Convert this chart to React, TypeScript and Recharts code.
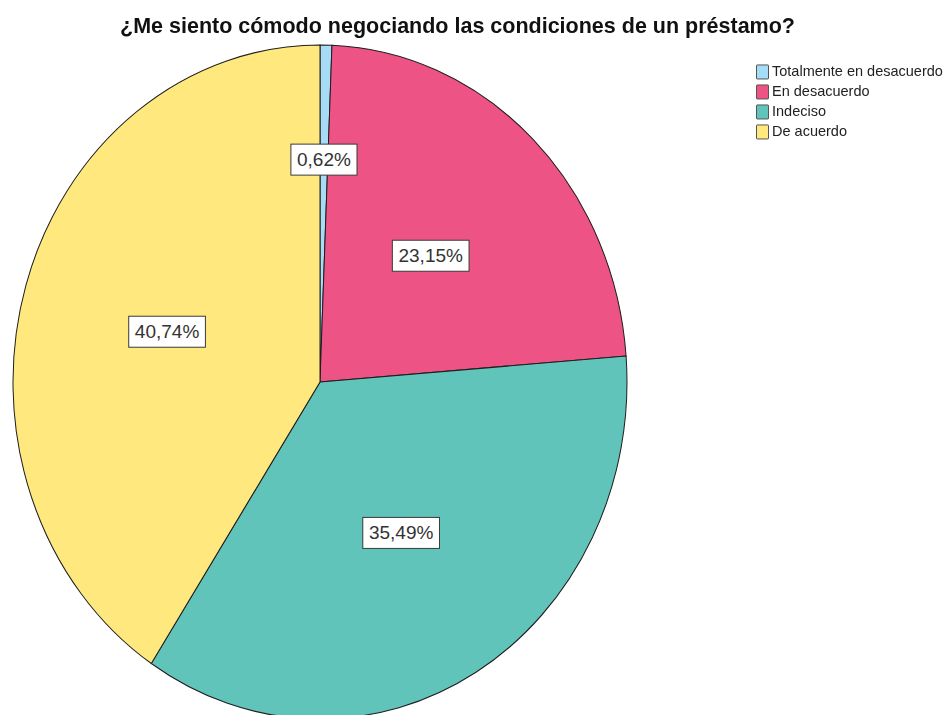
import { PieChart, Pie, Cell, Legend } from "recharts";

const categories = ["Totalmente en desacuerdo", "En desacuerdo", "Indeciso", "De acuerdo"];
const percents = [0.62, 23.15, 35.49, 40.74];
const colors = ["#a6dcf6", "#ee5386", "#60c4ba", "#ffe97f"];
const title = "¿Me siento cómodo negociando las condiciones de un préstamo?";

const data = categories.map((name, i) => ({ name, value: percents[i], fill: colors[i] }));

// the original pie is an ellipse (taller than wide), so the chart is stretched vertically
const W = 948;
const H = 715;
const CX = 320;
const CY = 382;
const R = 307;
const K = 337 / 307;
const RAD = Math.PI / 180;

function charWidth(ch: string) {
  if (ch === ",") return 5.3;
  if (ch === "%") return 17;
  return 10.6;
}

function SliceLabel(props: any) {
  const { cx, cy, midAngle, outerRadius, percent, value } = props;
  const frac = percent < 0.02 ? 0.66 : 0.52;
  const r = outerRadius * frac;
  const x = cx + r * Math.cos(-midAngle * RAD);
  const y = cy + r * Math.sin(-midAngle * RAD);
  const text = Number(value).toFixed(2).replace(".", ",") + "%";
  const tw = text.split("").reduce((s, c) => s + charWidth(c), 0);
  const bw = tw + 12;
  const bh = 31;
  return (
    <g transform={`translate(${x},${y}) scale(1,${1 / K})`}>
      <rect x={-bw / 2} y={-bh / 2} width={bw} height={bh} fill="#ffffff" stroke="#3a3a3a" strokeWidth={1} />
      <text
        x={0}
        y={1}
        textAnchor="middle"
        dominantBaseline="middle"
        fontFamily="'Liberation Sans', Arial, sans-serif"
        fontSize={19}
        fill="#333333"
      >
        {text}
      </text>
    </g>
  );
}

function LegendBox({ payload }: any) {
  return (
    <div style={{ fontFamily: "'Liberation Sans', Arial, sans-serif", fontSize: 14.5, color: "#222" }}>
      {(payload || []).map((entry: any, idx: number) => (
        <div key={idx} style={{ display: "flex", alignItems: "center", height: 20 }}>
          <span
            style={{
              display: "inline-block",
              width: 11,
              height: 13,
              background: entry.payload?.fill ?? entry.color,
              border: "1px solid #555",
              borderRadius: 1,
              marginRight: 3,
            }}
          />
          <span>{entry.value}</span>
        </div>
      ))}
    </div>
  );
}

export default function App() {
  return (
    <div
      style={{
        position: "absolute",
        left: 0,
        top: 0,
        width: W,
        height: H,
        overflow: "hidden",
        background: "#ffffff",
      }}
    >
      <div
        style={{
          position: "absolute",
          left: 0,
          top: 0,
          width: W,
          height: H,
          transform: `scaleY(${K})`,
          transformOrigin: `0px ${CY}px`,
        }}
      >
        <PieChart width={W} height={H} margin={{ top: 0, right: 0, bottom: 0, left: 0 }}>
          <Pie
            data={data}
            dataKey="value"
            nameKey="name"
            cx={CX}
            cy={CY}
            outerRadius={R}
            startAngle={90}
            endAngle={-270}
            stroke="#1e1e1e"
            strokeWidth={1}
            label={SliceLabel}
            labelLine={false}
            isAnimationActive={false}
          >
            {data.map((d, i) => (
              <Cell key={i} fill={d.fill} />
            ))}
          </Pie>
          <Legend
            layout="vertical"
            align="right"
            verticalAlign="top"
            itemSorter={null}
            content={<LegendBox />}
            wrapperStyle={{
              position: "absolute",
              top: CY + (62 - CY) / K,
              left: 756,
              width: 192,
              transform: `scaleY(${1 / K})`,
              transformOrigin: "0 0",
            }}
          />
        </PieChart>
      </div>
      <div
        style={{
          position: "absolute",
          left: 0,
          top: 14,
          width: 915,
          textAlign: "center",
          fontFamily: "'Liberation Sans', Arial, sans-serif",
          fontWeight: "bold",
          fontSize: 21.5,
          color: "#111",
        }}
      >
        {title}
      </div>
    </div>
  );
}
